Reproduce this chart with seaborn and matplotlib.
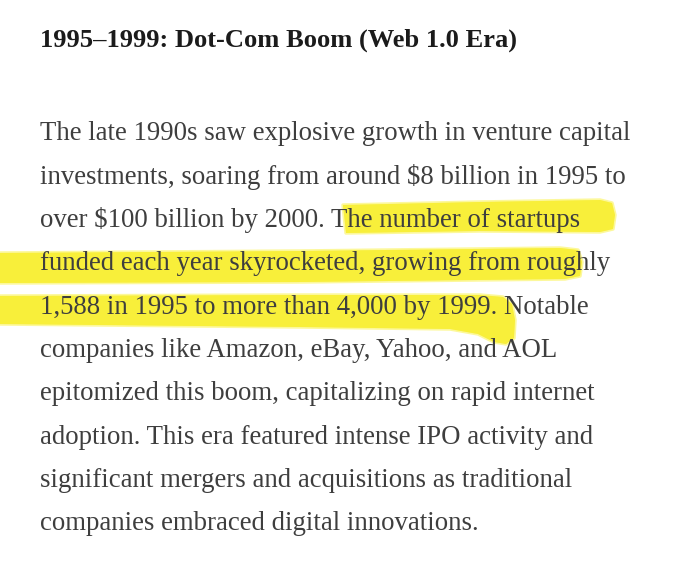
import matplotlib
matplotlib.use("Agg")
import matplotlib.pyplot as plt
import seaborn as sns
import numpy as np

sns.set_theme(style="white")
plt.rcParams["font.family"] = ["Liberation Serif", "DejaVu Serif"]

# ---- content ----
heading = "1995\u20131999: Dot-Com Boom (Web 1.0 Era)"
body_lines = [
    "The late 1990s saw explosive growth in venture capital",
    "investments, soaring from around $8 billion in 1995 to",
    "over $100 billion by 2000. The number of startups",
    "funded each year skyrocketed, growing from roughly",
    "1,588 in 1995 to more than 4,000 by 1999. Notable",
    "companies like Amazon, eBay, Yahoo, and AOL",
    "epitomized this boom, capitalizing on rapid internet",
    "adoption. This era featured intense IPO activity and",
    "significant mergers and acquisitions as traditional",
    "companies embraced digital innovations.",
]

# ---- layout (pixel space) ----
left_margin = 40
heading_baseline = 47
heading_right = 516
body_baselines = [140, 183.5, 227, 270, 313.5, 357, 400, 443.5, 487, 530]
body_right = [622, 630, 588, 606, 606, 553, 600, 601, 568, 477]

hl_shapes = [
    [(343, 205), (480, 202), (600, 200), (612, 203), (615, 215), (613, 229),
     (600, 232), (480, 231), (346, 233)],
    [(0, 253), (300, 251), (560, 248), (578, 250), (582, 262), (580, 276),
     (565, 279), (300, 282), (0, 283)],
    [(0, 296), (300, 295), (480, 295), (503, 297), (512, 304), (515, 320),
     (514, 338), (506, 344), (494, 342), (478, 334), (450, 329), (300, 327),
     (0, 324)],
]

W, H = 680, 565
fig = plt.figure(figsize=(W / 100, H / 100), dpi=100)
ax = fig.add_axes([0, 0, 1, 1])
ax.set_xlim(0, W)
ax.set_ylim(H, 0)
ax.axis("off")
fig.patch.set_facecolor("white")

# highlights
for shp in hl_shapes:
    xs = [p[0] for p in shp]
    ys = [p[1] for p in shp]
    ax.fill(xs, ys, facecolor="#fbf34a", edgecolor="#fbf34a", linewidth=2.5,
            alpha=0.55, zorder=1, joinstyle="round")
    ax.fill(xs, ys, facecolor="#f8ef3a", edgecolor="none", zorder=1.1)

# texts at base size, then fit to widths
base = 20.0
h_txt = ax.text(left_margin, heading_baseline, heading, fontsize=base,
                fontweight="bold", color="#1b1b1b", va="baseline", ha="left",
                zorder=3)
b_txts = [ax.text(left_margin, y, s, fontsize=base, color="#3e3e3e",
                  va="baseline", ha="left", zorder=3)
          for s, y in zip(body_lines, body_baselines)]

fig.canvas.draw()
r = fig.canvas.get_renderer()
hw = h_txt.get_window_extent(r).width
h_txt.set_fontsize(base * (heading_right - left_margin) / hw)
ratios = [(rt - left_margin) / t.get_window_extent(r).width
          for t, rt in zip(b_txts, body_right)]
bs = base * float(np.median(ratios))
for t in b_txts:
    t.set_fontsize(bs)

fig.savefig("out.png", dpi=100, facecolor="white")
